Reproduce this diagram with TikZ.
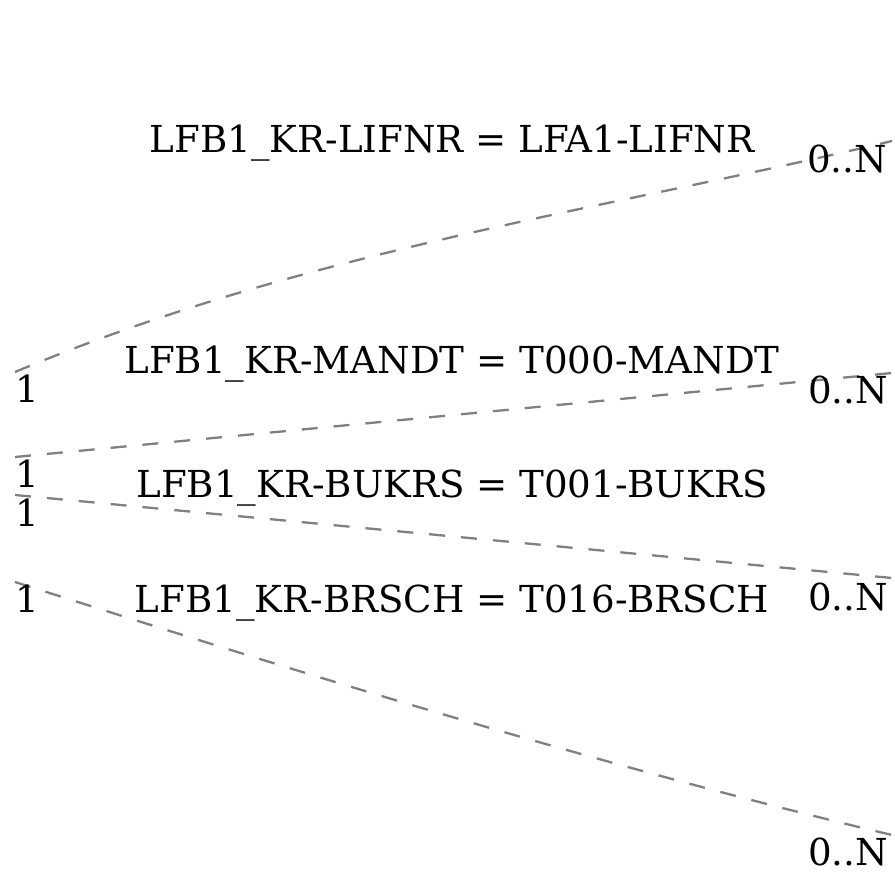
\documentclass[tikz,border=0pt]{standalone}
\usepackage{fontspec}
\setmainfont{DejaVu Serif}
\begin{document}
\begin{tikzpicture}[x=1bp,y=-1bp,
  rel/.style={draw=gray, line width=2.3bp, dash pattern=on 16bp off 16bp},
  lbl/.style={inner sep=0pt, anchor=base, font=\fontsize{37.3}{40}\selectfont},
  card/.style={inner sep=0pt, anchor=base, font=\fontsize{37.3}{40}\selectfont}]
\useasboundingbox (0,0) rectangle (895,879);
% endpoints
\coordinate (s1) at (15,372);  \coordinate (e1) at (892,141);
\coordinate (s2) at (15,457);  \coordinate (e2) at (892,373);
\coordinate (s3) at (15,495);  \coordinate (e3) at (892,578);
\coordinate (s4) at (15,582);  \coordinate (e4) at (892,835);
% connectors
\draw[rel] (s1) .. controls (307,250) and (598,211) .. (e1);
\draw[rel] (s2) -- (e2);
\draw[rel] (s3) -- (e3);
\draw[rel] (s4) .. controls (307,675) and (598,765) .. (e4);
% relation labels
\node[lbl] (l1) at (452,152) {LFB1\_KR-LIFNR = LFA1-LIFNR};
\node[lbl] (l2) at (452,373) {LFB1\_KR-MANDT = T000-MANDT};
\node[lbl] (l3) at (452,497) {LFB1\_KR-BUKRS = T001-BUKRS};
\node[lbl] (l4) at (452,612) {LFB1\_KR-BRSCH = T016-BRSCH};
% cardinalities
\node[card] (c1a) at (27.5,402) {1};
\node[card] (c2a) at (27.5,487) {1};
\node[card] (c3a) at (27.5,526) {1};
\node[card] (c4a) at (27.5,612) {1};
\node[card] (c1b) at (847,172) {0..N};
\node[card] (c2b) at (848,403) {0..N};
\node[card] (c3b) at (848,610) {0..N};
\node[card] (c4b) at (848,865) {0..N};
\end{tikzpicture}
\end{document}
